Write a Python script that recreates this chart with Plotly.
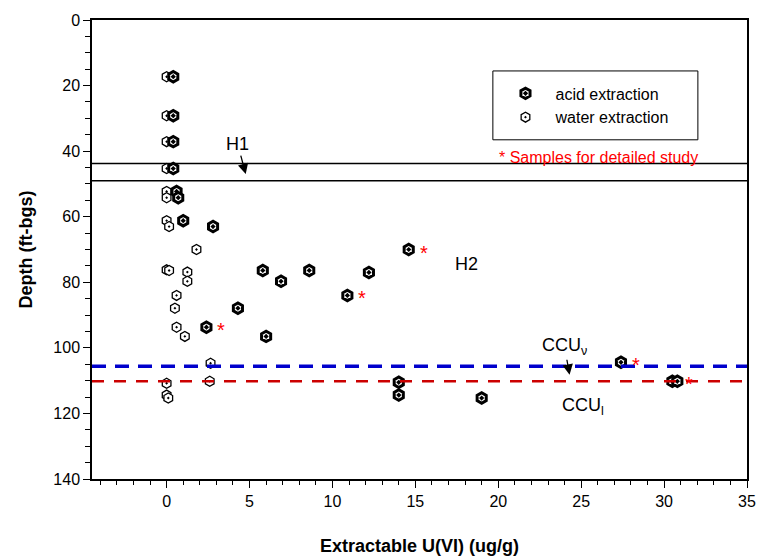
import plotly.graph_objects as go

# ---------------- data ----------------
acid_x = [0.4, 0.4, 0.4, 0.4, 0.6, 0.7, 1.0, 2.8, 5.8, 8.6, 6.9, 12.2, 10.9, 4.3,
          2.4, 6.0, 14.6, 27.4, 30.5, 30.8, 14.0, 14.0, 19.0]
acid_depth = [17.3, 29.2, 37.1, 45.3, 52.3, 54.2, 61.2, 63.0, 76.4, 76.4, 79.7, 77.0,
              84.0, 87.9, 93.7, 96.5, 70.0, 104.4, 110.2, 110.2, 110.5, 114.4, 115.3]

water_x = [0.0, 0.0, 0.0, 0.0, 0.0, 0.0, 0.0, 0.15, 1.8, 0.0, 0.15, 1.25, 1.25, 0.6,
           0.5, 0.6, 1.1, 2.65, 2.6, 0.0, 0.0, 0.1]
water_depth = [17.3, 29.2, 37.1, 45.3, 52.3, 54.2, 61.2, 63.0, 70.0, 76.2, 76.4, 76.9,
               79.7, 84.0, 87.9, 93.7, 96.5, 104.7, 110.2, 110.8, 114.4, 115.3]

# samples for detailed study (marked with red asterisk)
star_x = [2.4, 10.9, 14.6, 27.4, 30.6]
star_depth = [93.7, 84.0, 70.0, 104.4, 110.2]

h_depths = [43.8, 49.0]          # H1, H2 boundaries
ccu_v_depth = 105.6              # CCUv
ccu_l_depth = 110.2              # CCUl

x_ticks = [0, 5, 10, 15, 20, 25, 30, 35]
y_ticks = [0, 20, 40, 60, 80, 100, 120, 140]

FONT = "Liberation Sans, Arial, sans-serif"

fig = go.Figure()

fig.add_trace(go.Scatter(
    x=water_x, y=water_depth, mode="markers", name="water extraction",
    legendrank=2,
    marker=dict(symbol="hexagon-dot", size=10, color="white",
                line=dict(color="black", width=1.3)),
))
fig.add_trace(go.Scatter(
    x=acid_x, y=acid_depth, mode="markers", name="acid extraction",
    legendrank=1,
    marker=dict(symbol="hexagon-dot", size=10.5, color="white",
                line=dict(color="black", width=3)),
))

# horizontal boundary lines
for d in h_depths:
    fig.add_shape(type="line", xref="paper", x0=0, x1=1, yref="y", y0=d, y1=d,
                  line=dict(color="black", width=1.5))
fig.add_shape(type="line", xref="paper", x0=0, x1=1, yref="y",
              y0=ccu_v_depth, y1=ccu_v_depth,
              line=dict(color="#0000CC", width=3.5, dash="14px,9px"))
fig.add_shape(type="line", xref="paper", x0=0, x1=1, yref="y",
              y0=ccu_l_depth, y1=ccu_l_depth,
              line=dict(color="#CC0000", width=2.5, dash="12px,10px"))

# legend box
fig.add_shape(type="rect", xref="paper", yref="paper",
              x0=0.612, x1=0.925, y0=0.739, y1=0.889,
              line=dict(color="black", width=1), fillcolor="rgba(0,0,0,0)")

# red asterisks
for sx, sy in zip(star_x, star_depth):
    fig.add_annotation(x=sx, y=sy, text="*", showarrow=False, xshift=15, yshift=-3,
                       font=dict(family=FONT, size=20, color="red"))

# text annotations
fig.add_annotation(x=4.77, y=47.0, text="H1", showarrow=True, arrowhead=2,
                   arrowsize=1.6, arrowwidth=1.3, arrowcolor="black", ax=-8, ay=-30,
                   font=dict(family=FONT, size=18, color="black"))
fig.add_annotation(x=18.1, y=74.5, text="H2", showarrow=False,
                   font=dict(family=FONT, size=18, color="black"))
fig.add_annotation(x=24.3, y=108.2, text="CCU<sub>ν</sub>", showarrow=True,
                   arrowhead=2, arrowsize=1.6, arrowwidth=1.3, arrowcolor="black",
                   ax=-5, ay=-28,
                   font=dict(family=FONT, size=18, color="black"))
fig.add_annotation(x=25.1, y=118.0, text="CCU<sub>l</sub>", showarrow=False,
                   font=dict(family=FONT, size=18, color="black"))
fig.add_annotation(x=19.9, y=42.0, text="* Samples for detailed study",
                   showarrow=False, xanchor="left",
                   font=dict(family=FONT, size=16, color="red"))

fig.update_layout(
    width=758, height=557,
    margin=dict(l=92, r=11, t=20, b=78, autoexpand=False),
    paper_bgcolor="white", plot_bgcolor="white",
    font=dict(family=FONT, size=16, color="black"),
    showlegend=True,
    legend=dict(x=0.616, y=0.877, xanchor="left", yanchor="top",
                bgcolor="rgba(0,0,0,0)", borderwidth=0, itemwidth=50,
                font=dict(family=FONT, size=16, color="black")),
    xaxis=dict(
        range=[-4.5, 35], tickvals=x_ticks, ticks="outside", ticklen=7,
        tickwidth=1, tickcolor="black", showline=True, linecolor="black",
        linewidth=1.5, mirror=True, showgrid=False, zeroline=False,
        automargin=False,
        minor=dict(dtick=1, tick0=0, ticks="outside", ticklen=4,
                   tickcolor="black", showgrid=False),
        title=dict(text="<b>Extractable U(VI) (ug/g)</b>",
                   font=dict(family=FONT, size=18), standoff=30),
        tickfont=dict(family=FONT, size=16),
    ),
    yaxis=dict(
        range=[140, 0], tickvals=y_ticks, ticks="outside", ticklen=7,
        tickwidth=1, tickcolor="black", showline=True, linecolor="black",
        linewidth=1.5, mirror=True, showgrid=False, zeroline=False,
        automargin=False,
        minor=dict(dtick=5, tick0=0, ticks="outside", ticklen=5,
                   tickcolor="black", showgrid=False),
        title=dict(text="<b>Depth (ft-bgs)</b>",
                   font=dict(family=FONT, size=18), standoff=16),
        tickfont=dict(family=FONT, size=16),
    ),
)

fig.write_html("out.html")
